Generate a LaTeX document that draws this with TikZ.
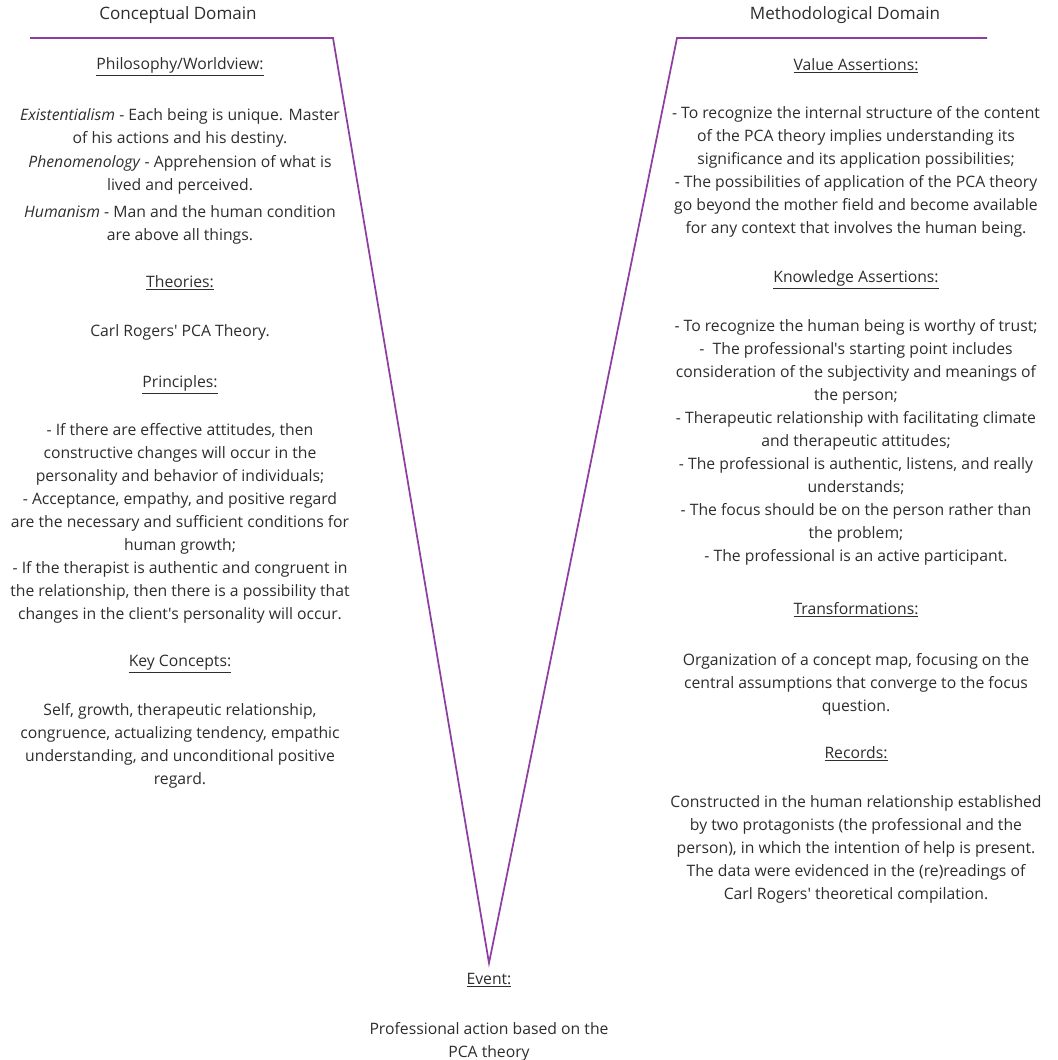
\documentclass[tikz,border=0pt]{standalone}
\usepackage{fontspec}
\setmainfont{Open Sans}
\usepackage{tikz}
\definecolor{vline}{RGB}{142,62,160}
\definecolor{txt}{RGB}{45,45,45}
\tikzset{
  block/.style={align=center, inner sep=0pt, anchor=north, text=txt,
    font=\fontsize{11.8}{17.25}\selectfont},
  domtitle/.style={inner sep=0pt, text=txt, font=\fontsize{12.8}{14}\selectfont},
}
\newcommand{\hd}[1]{\underline{#1}}
\newcommand{\q}{\textquotesingle}

\begin{document}
\begin{tikzpicture}[x=0.75pt, y=-0.75pt]
\useasboundingbox (0,0) rectangle (1057,1060);
\coordinate (TL) at (30,38);
\coordinate (VL) at (333,38);
\coordinate (V) at (489,963);
\coordinate (VR) at (677,38);
\coordinate (TR) at (987,38);
\draw[vline, line width=1.3pt, line join=miter] (TL)--(VL)--(V)--(VR)--(TR);
%% domain titles
\node[domtitle] (concept) at (178,15) {Conceptual Domain};
\node[domtitle] (method) at (845,15) {Methodological Domain};
%% left side
\node[block] (philo) at (180,57) {\hd{Philosophy/Worldview:}\\[21pt]
  \textit{Existentialism} - Each being is unique. Master\\
  of his actions and his destiny.\\[1pt]
  \textit{Phenomenology} - Apprehension of what is\\
  lived and perceived.\\[3pt]
  \textit{Humanism} - Man and the human condition\\
  are above all things.};
\node[block] (theory) at (180,275) {\hd{Theories:}\\[20pt]
  Carl Rogers\q\ PCA Theory.};
\node[block] (princ) at (180,375) {\hd{Principles:}\\[19pt]
  - If there are effective attitudes, then\\
  constructive changes will occur in the\\
  personality and behavior of individuals;\\
  - Acceptance, empathy, and positive regard\\
  are the necessary and sufficient conditions for\\
  human growth;\\
  - If the therapist is authentic and congruent in\\
  the relationship, then there is a possibility that\\
  changes in the client\q s personality will occur.};
\node[block] (keyc) at (180,655) {\hd{Key Concepts:}\\[19pt]
  Self, growth, therapeutic relationship,\\
  congruence, actualizing tendency, empathic\\
  understanding, and unconditional positive\\
  regard.};
%% right side
\node[block] (value) at (856,58) {\hd{Value Assertions:}\\[19pt]
  - To recognize the internal structure of the content\\
  of the PCA theory implies understanding its\\
  significance and its application possibilities;\\
  - The possibilities of application of the PCA theory\\
  go beyond the mother field and become available\\
  for any context that involves the human being.};
\node[block] (know) at (856,270) {\hd{Knowledge Assertions:}\\[20pt]
  - To recognize the human being is worthy of trust;\\
  -~ The professional\q s starting point includes\\
  consideration of the subjectivity and meanings of\\
  the person;\\
  - Therapeutic relationship with facilitating climate\\
  and therapeutic attitudes;\\
  - The professional is authentic, listens, and really\\
  understands;\\
  - The focus should be on the person rather than\\
  the problem;\\
  - The professional is an active participant.};
\node[block] (trans) at (856,602) {\hd{Transformations:}\\[21pt]
  Organization of a concept map, focusing on the\\
  central assumptions that converge to the focus\\
  question.};
\node[block] (records) at (856,746) {\hd{Records:}\\[20pt]
  Constructed in the human relationship established\\
  by two protagonists (the professional and the\\
  person), in which the intention of help is present.\\
  The data were evidenced in the (re)readings of\\
  Carl Rogers\q\ theoretical compilation.};
%% bottom
\node[block] (event) at (489,973) {\hd{Event:}\\[20pt]
  Professional action based on the\\
  PCA theory};
\end{tikzpicture}
\end{document}
